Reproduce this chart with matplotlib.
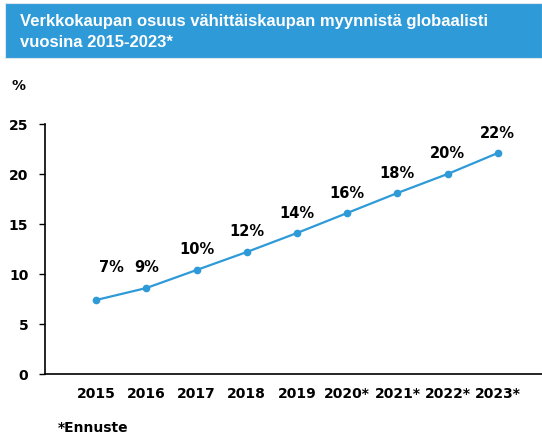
import matplotlib.pyplot as plt
from matplotlib.patches import Rectangle

years = ['2015', '2016', '2017', '2018', '2019', '2020*', '2021*', '2022*', '2023*']
share = [7.4, 8.6, 10.4, 12.2, 14.1, 16.1, 18.1, 20.0, 22.1]
labels = ['7%', '9%', '10%', '12%', '14%', '16%', '18%', '20%', '22%']
# label offsets in points (dx, dy)
offsets = [(11, 18), (0, 9), (0, 9), (0, 9), (0, 9), (0, 9), (0, 9), (0, 9), (0, 9)]

blue = '#2E9AD8'
plt.rcParams['font.family'] = ['DejaVu Sans']

fig = plt.figure(figsize=(5.42, 4.38), dpi=100)
ax = fig.add_axes([45 / 542, 1 - 374 / 438, 1 - 45 / 542, 250 / 438])

x = list(range(len(years)))
ax.plot(x, share, color=blue, linewidth=1.6, marker='o', markersize=4.5)
for xi, yi, lab, off in zip(x, share, labels, offsets):
    ax.annotate(lab, (xi, yi), xytext=off, textcoords='offset points',
                ha='center', va='bottom', fontsize=10.5, fontweight='bold')

ax.set_xlim(-1.02, 8.88)
ax.set_ylim(0, 25)
ax.set_yticks([0, 5, 10, 15, 20, 25])
ax.set_xticks(x)
ax.set_xticklabels(years)
ax.tick_params(axis='x', length=0, pad=9, labelsize=10)
ax.tick_params(axis='y', length=4, width=1, pad=8, labelsize=10)
for t in ax.get_xticklabels() + ax.get_yticklabels():
    t.set_fontweight('bold')
ax.spines['top'].set_visible(False)
ax.spines['right'].set_visible(False)
ax.spines['left'].set_linewidth(1.2)
ax.spines['bottom'].set_linewidth(1.2)

# title banner
fig.patches.append(Rectangle((5 / 542, 1 - 58 / 438), 537 / 542, 55 / 438,
                             transform=fig.transFigure, facecolor=blue,
                             edgecolor='#DDE6EE', linewidth=0.8))
fig.text(20 / 542, 1 - 32 / 438,
         'Verkkokaupan osuus vähittäiskaupan myynnistä globaalisti\nvuosina 2015-2023*',
         color='white', fontsize=12, fontweight='bold', va='center', ha='left',
         family=['Liberation Sans'], linespacing=1.45)

fig.text(12 / 542, 1 - 86 / 438, '%', fontsize=10, fontweight='bold', va='center')
fig.text(58 / 542, 1 - 428 / 438, '*Ennuste', fontsize=10, fontweight='bold', va='center')

fig.savefig('out.png', dpi=100)
